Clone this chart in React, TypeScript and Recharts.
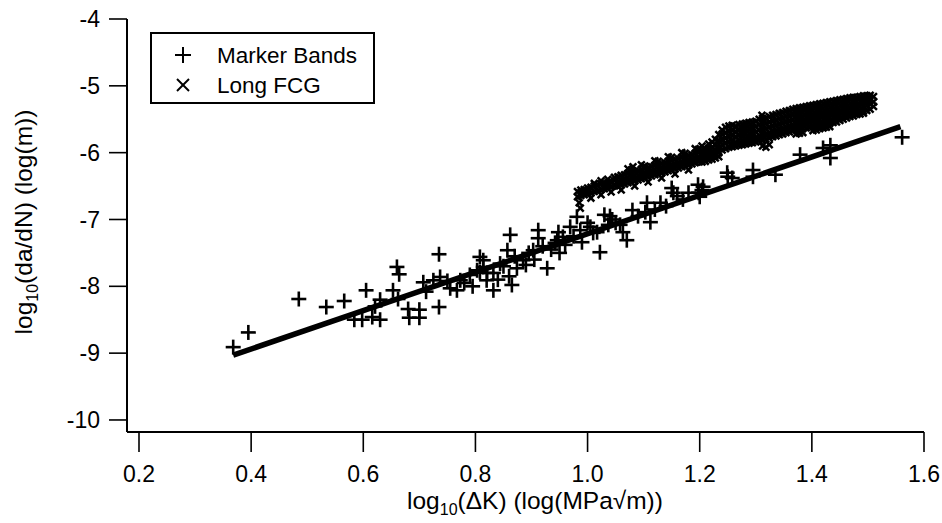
import React from 'react';
import { ScatterChart, Scatter, XAxis, YAxis, ReferenceLine, Label } from 'recharts';

const FONT = '"Liberation Sans", Arial, Helvetica, sans-serif';

const xTicks = [0.2, 0.4, 0.6, 0.8, 1.0, 1.2, 1.4, 1.6];
const yTicks = [-10, -9, -8, -7, -6, -5, -4];
const xDomain: [number, number] = [0.1786, 1.6];
const yDomain: [number, number] = [-10.18, -4];

const seriesNames = ['Marker Bands', 'Long FCG'];

// Marker Bands (+) [log10 dK, log10 da/dN]
const markerBands: [number, number][] = [
  [0.368, -8.91], [0.395, -8.69], [0.485, -8.19], [0.534, -8.31], [0.566, -8.22], [0.605, -8.06],
  [0.584, -8.50], [0.598, -8.50], [0.616, -8.46], [0.630, -8.50], [0.621, -8.30], [0.630, -8.20],
  [0.653, -8.06], [0.660, -7.71], [0.664, -7.82], [0.662, -8.19], [0.680, -8.34], [0.700, -8.35],
  [0.682, -8.47], [0.700, -8.47], [0.735, -7.52], [0.735, -8.31], [0.707, -7.94], [0.725, -7.91],
  [0.737, -7.86], [0.755, -8.03], [0.767, -8.06], [0.773, -7.91], [0.750, -7.92], [0.712, -8.08],
  [0.790, -7.83], [0.780, -7.95], [0.795, -8.00], [0.803, -7.76], [0.814, -7.71], [0.808, -7.56],
  [0.820, -7.91], [0.832, -7.80], [0.832, -8.06], [0.840, -7.90], [0.814, -7.61], [0.808, -7.79],
  [0.821, -7.80], [0.844, -7.66], [0.850, -7.70], [0.857, -7.46], [0.860, -7.85], [0.862, -7.23],
  [0.865, -7.98], [0.870, -7.55], [0.874, -7.73], [0.885, -7.61], [0.890, -7.68], [0.895, -7.50],
  [0.903, -7.46], [0.905, -7.60], [0.912, -7.16], [0.912, -7.28], [0.920, -7.40], [0.928, -7.73],
  [0.935, -7.45], [0.942, -7.35], [0.946, -7.31], [0.948, -7.19], [0.950, -7.50], [0.956, -7.26],
  [0.960, -7.38], [0.969, -7.11], [0.975, -7.25], [0.981, -6.96], [0.987, -7.16], [0.990, -7.34],
  [1.000, -7.05], [1.005, -7.11], [1.010, -7.20], [1.017, -7.19], [1.022, -7.49], [1.030, -6.93],
  [1.037, -7.08], [1.040, -6.95], [1.044, -7.00], [1.050, -7.05], [1.058, -7.08], [1.063, -7.19],
  [1.070, -7.31], [1.080, -6.86], [1.090, -6.95], [1.103, -6.89], [1.106, -6.75], [1.112, -7.04],
  [1.120, -6.85], [1.130, -6.75], [1.140, -6.80], [1.150, -6.53], [1.153, -6.60], [1.160, -6.65],
  [1.170, -6.70], [1.180, -6.60], [1.197, -6.48], [1.198, -6.60], [1.200, -6.66], [1.204, -6.56],
  [1.206, -6.51], [1.249, -6.30], [1.250, -6.36], [1.258, -6.38], [1.295, -6.26], [1.295, -6.36],
  [1.335, -6.33], [1.379, -6.03], [1.420, -5.93], [1.433, -5.89], [1.433, -6.08], [1.561, -5.77],
];

// Long FCG (x) columns: [log10 dK, log10 da/dN values...]
const longFcgColumns: number[][] = [
  [0.982, -6.58, -6.66], [0.985, -6.75], [0.987, -6.83], [0.988, -6.56, -6.64, -6.60], [0.994, -6.55, -6.63],
  [1.000, -6.53, -6.61, -6.57], [1.006, -6.52, -6.60, -6.68], [1.012, -6.50, -6.58, -6.46], [1.018, -6.49, -6.57],
  [1.024, -6.47, -6.55, -6.42, -6.63], [1.030, -6.46, -6.54], [1.036, -6.45, -6.53, -6.40], [1.042, -6.44, -6.51, -6.59],
  [1.048, -6.42, -6.50, -6.37],
  [1.054, -6.36, -6.43, -6.50], [1.060, -6.34, -6.41, -6.48, -6.56], [1.066, -6.33, -6.40, -6.47],
  [1.072, -6.31, -6.38, -6.45, -6.24], [1.078, -6.30, -6.37, -6.44, -6.26], [1.081, -6.21],
  [1.084, -6.28, -6.35, -6.42, -6.50], [1.090, -6.27, -6.34, -6.41], [1.096, -6.25, -6.32, -6.39, -6.18],
  [1.102, -6.24, -6.31, -6.38, -6.20], [1.108, -6.22, -6.29, -6.36, -6.44], [1.114, -6.21, -6.28, -6.35],
  [1.120, -6.19, -6.26, -6.33, -6.12], [1.126, -6.18, -6.25, -6.32, -6.13], [1.132, -6.16, -6.23, -6.30, -6.38],
  [1.138, -6.15, -6.22, -6.29], [1.144, -6.13, -6.20, -6.27, -6.06], [1.150, -6.12, -6.19, -6.26, -6.07],
  [1.156, -6.10, -6.17, -6.24, -6.32], [1.162, -6.09, -6.16, -6.23], [1.168, -6.07, -6.14, -6.21, -6.00],
  [1.174, -6.06, -6.13, -6.20, -6.01], [1.180, -6.04, -6.11, -6.18, -6.26], [1.186, -6.03, -6.10, -6.17],
  [1.192, -6.01, -6.08, -6.15, -5.94], [1.198, -6.00, -6.07, -6.14, -5.95],
  [1.204, -5.96, -6.02, -6.08, -6.14, -5.90], [1.210, -5.95, -6.01, -6.07, -6.13], [1.216, -5.87, -5.93, -5.99, -6.05, -6.11],
  [1.222, -5.84, -5.92, -5.98, -6.04, -6.10], [1.228, -5.80, -5.88, -5.96, -6.02, -6.08], [1.234, -5.73, -5.81, -5.88, -5.94, -6.00, -6.06],
  [1.240, -5.66, -5.72, -5.80, -5.88, -5.96], [1.246, -5.62, -5.70, -5.78, -5.86, -5.94],
  [1.252, -5.60, -5.68, -5.76, -5.84, -5.92], [1.258, -5.59, -5.67, -5.75, -5.83, -5.91],
  [1.264, -5.60, -5.68, -5.76, -5.84, -5.90], [1.270, -5.58, -5.66, -5.74, -5.82, -5.89],
  [1.276, -5.57, -5.65, -5.73, -5.81, -5.88], [1.282, -5.56, -5.64, -5.72, -5.80, -5.87],
  [1.288, -5.55, -5.63, -5.71, -5.79, -5.86], [1.294, -5.54, -5.62, -5.70, -5.78, -5.85],
  [1.300, -5.53, -5.61, -5.69, -5.77, -5.84],
  [1.306, -5.50, -5.58, -5.66, -5.74, -5.82], [1.311, -5.44],
  [1.312, -5.49, -5.57, -5.65, -5.73, -5.81, -5.90], [1.318, -5.48, -5.56, -5.64, -5.72, -5.80, -5.92],
  [1.324, -5.46, -5.54, -5.62, -5.70, -5.78, -5.88], [1.330, -5.44, -5.52, -5.60, -5.68, -5.76],
  [1.336, -5.43, -5.51, -5.59, -5.67, -5.75], [1.342, -5.41, -5.49, -5.57, -5.65, -5.73],
  [1.348, -5.40, -5.48, -5.56, -5.64, -5.72], [1.354, -5.38, -5.46, -5.54, -5.62, -5.70],
  [1.360, -5.37, -5.45, -5.53, -5.61, -5.69], [1.366, -5.35, -5.43, -5.51, -5.59, -5.67],
  [1.372, -5.34, -5.42, -5.50, -5.58, -5.66, -5.72], [1.378, -5.33, -5.41, -5.49, -5.57, -5.65, -5.71],
  [1.384, -5.32, -5.40, -5.48, -5.56, -5.64, -5.70], [1.390, -5.31, -5.39, -5.47, -5.55, -5.63],
  [1.396, -5.30, -5.38, -5.46, -5.54, -5.62],
  [1.402, -5.29, -5.37, -5.45, -5.53, -5.61, -5.67], [1.408, -5.28, -5.36, -5.44, -5.52, -5.60, -5.66],
  [1.414, -5.27, -5.35, -5.43, -5.51, -5.59, -5.64], [1.420, -5.26, -5.34, -5.42, -5.50, -5.58, -5.63],
  [1.426, -5.25, -5.33, -5.41, -5.49, -5.57, -5.62], [1.432, -5.24, -5.32, -5.40, -5.48, -5.56, -5.61],
  [1.438, -5.23, -5.31, -5.39, -5.47, -5.55], [1.444, -5.22, -5.30, -5.38, -5.46, -5.54],
  [1.450, -5.21, -5.29, -5.37, -5.45, -5.52], [1.456, -5.20, -5.28, -5.36, -5.44, -5.50],
  [1.462, -5.19, -5.27, -5.35, -5.43, -5.48], [1.468, -5.18, -5.26, -5.34, -5.42, -5.46],
  [1.474, -5.17, -5.25, -5.33, -5.41, -5.45], [1.480, -5.17, -5.24, -5.32, -5.40, -5.43],
  [1.486, -5.16, -5.23, -5.31, -5.39, -5.42], [1.492, -5.15, -5.22, -5.30, -5.38, -5.41],
  [1.498, -5.15, -5.21, -5.29, -5.37], [1.504, -5.14, -5.20, -5.28, -5.35], [1.510, -5.16, -5.24, -5.31],
];

// Fit lines (endpoints)
const markerFit = [{ x: 0.368, y: -9.03 }, { x: 1.558, y: -5.61 }];
const fcgFit = [{ x: 0.981, y: -6.68 }, { x: 1.51, y: -5.21 }];

const markerData = markerBands.map(([x, y]) => ({ x, y }));
const fcgData = longFcgColumns.flatMap(([x, ...ys]) => ys.map((y) => ({ x, y })));

const PlusShape = (props: any) => {
  const { cx, cy } = props;
  if (cx == null || cy == null) return <g />;
  return (
    <g stroke="#000" strokeWidth={2.6}>
      <line x1={cx - 7.5} y1={cy} x2={cx + 7.5} y2={cy} />
      <line x1={cx} y1={cy - 7.5} x2={cx} y2={cy + 7.5} />
    </g>
  );
};

const CrossShape = (props: any) => {
  const { cx, cy } = props;
  if (cx == null || cy == null) return <g />;
  const s = 3.4;
  return (
    <g stroke="#000" strokeWidth={2.5}>
      <line x1={cx - s} y1={cy - s} x2={cx + s} y2={cy + s} />
      <line x1={cx - s} y1={cy + s} x2={cx + s} y2={cy - s} />
    </g>
  );
};

const XTitle = () => (
  <text x={535} y={509} textAnchor="middle" fontSize={24.5} fontFamily={FONT} fill="#000">
    <tspan>log</tspan>
    <tspan fontSize={16} dy={6}>10</tspan>
    <tspan dy={-6}>(ΔK) (log(MPa√m))</tspan>
  </text>
);

const YTitle = () => (
  <text
    x={0}
    y={0}
    transform="translate(32,222) rotate(-90)"
    textAnchor="middle"
    fontSize={24.5}
    fontFamily={FONT}
    fill="#000"
  >
    <tspan>log</tspan>
    <tspan fontSize={16} dy={6}>10</tspan>
    <tspan dy={-6}>(da/dN) (log(m))</tspan>
  </text>
);

const LegendBox = () => (
  <svg width={230} height={80} style={{ position: 'absolute', left: 150, top: 32 }}>
    <rect x={1} y={1} width={223} height={70} fill="#fff" stroke="#000" strokeWidth={2} />
    <g stroke="#000" strokeWidth={2}>
      <line x1={25} y1={23} x2={41} y2={23} />
      <line x1={33} y1={15} x2={33} y2={31} />
      <line x1={27} y1={47} x2={39} y2={59} />
      <line x1={27} y1={59} x2={39} y2={47} />
    </g>
    <text x={67} y={31} fontSize={22.5} fontFamily={FONT} fill="#000">{seriesNames[0]}</text>
    <text x={67} y={61} fontSize={22.5} fontFamily={FONT} fill="#000">{seriesNames[1]}</text>
  </svg>
);

export default function App() {
  const tickStyle = { fill: '#000', fontSize: 23, fontFamily: FONT };
  return (
    <div style={{ position: 'absolute', left: 0, top: 0, width: 942, height: 523, background: '#fff' }}>
      <ScatterChart width={942} height={523} margin={{ top: 19, right: 18, bottom: 0, left: 0 }}>
        <XAxis
          type="number"
          dataKey="x"
          domain={xDomain}
          allowDataOverflow
          ticks={xTicks}
          interval={0}
          tickFormatter={(v: number) => v.toFixed(1)}
          height={91}
          tickSize={20}
          tickMargin={14}
          tick={tickStyle}
          axisLine={{ stroke: '#000', strokeWidth: 2.2 }}
          tickLine={{ stroke: '#000', strokeWidth: 1.6 }}
        >
          <Label content={XTitle} />
        </XAxis>
        <YAxis
          type="number"
          dataKey="y"
          domain={yDomain}
          allowDataOverflow
          ticks={yTicks}
          interval={0}
          width={127}
          tickSize={18}
          tickMargin={9}
          tick={tickStyle}
          axisLine={{ stroke: '#000', strokeWidth: 2 }}
          tickLine={{ stroke: '#000', strokeWidth: 1.6 }}
        >
          <Label content={YTitle} />
        </YAxis>
        <Scatter name={seriesNames[1]} data={fcgData} shape={CrossShape} isAnimationActive={false} />
        <Scatter name={seriesNames[0]} data={markerData} shape={PlusShape} isAnimationActive={false} />
        <ReferenceLine segment={markerFit} stroke="#000" strokeWidth={5.5} />
        <ReferenceLine segment={fcgFit} stroke="#000" strokeWidth={3.5} />
      </ScatterChart>
      <LegendBox />
    </div>
  );
}
